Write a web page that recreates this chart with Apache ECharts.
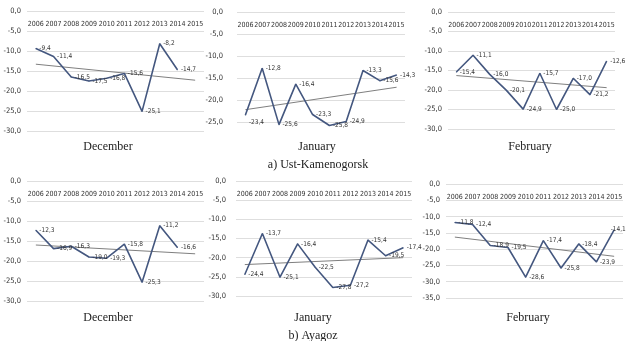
<!DOCTYPE html>
<html><head><meta charset="utf-8">
<script src="https://cdn.jsdelivr.net/npm/echarts@6/dist/echarts.min.js"></script>
<style>html,body{margin:0;padding:0;background:#fff}#c{width:631px;height:341px}</style>
</head><body><div id="c"></div>
<script>
const years = ['2006','2007','2008','2009','2010','2011','2012','2013','2014','2015'];
// Ust-Kamenogorsk
const ustDec = [-9.4, -11.4, -16.5, -17.5, -16.8, -15.6, -25.1, -8.2, -14.7, null];
const ustJan = [-23.4, -12.8, -25.6, -16.4, -23.3, -25.8, -24.9, -13.3, -15.6, -14.3];
const ustFeb = [-15.4, -11.1, -16.0, -20.1, -24.9, -15.7, -25.0, -17.0, -21.2, -12.6];
// Ayagoz
const ayaDec = [-12.3, -16.9, -16.3, -19.0, -19.3, -15.8, -25.3, -11.2, -16.6, null];
const ayaJan = [-24.4, -13.7, -25.1, -16.4, -22.5, -27.8, -27.2, -15.4, -19.5, -17.4];
const ayaFeb = [-11.8, -12.4, -18.9, -19.5, -28.6, -17.4, -25.8, -18.4, -23.9, -14.1];
// trend line values at 2006 and 2015
const trendUstDec = [-13.3, -17.3];
const trendUstJan = [-22.2, -17.1];
const trendUstFeb = [-16.3, -19.4];
const trendAyaDec = [-16.0, -18.2];
const trendAyaJan = [-21.8, -20.0];
const trendAyaFeb = [-16.3, -22.2];
const axisMins = [-30, -25, -30, -30, -30, -35];
const monthTitles = ['December', 'January', 'February', 'December', 'January', 'February'];
const stationTitles = ['a) Ust-Kamenogorsk', 'b) Ayagoz'];

const seriesData = [ustDec, ustJan, ustFeb, ayaDec, ayaJan, ayaFeb];
const trends = [trendUstDec, trendUstJan, trendUstFeb, trendAyaDec, trendAyaJan, trendAyaFeb];

const grids = [
  {left: 27, top: 11, width: 177, height: 120},
  {left: 237, top: 12, width: 168, height: 110},
  {left: 448, top: 12, width: 167, height: 117},
  {left: 27, top: 181, width: 177, height: 120},
  {left: 236, top: 181, width: 176, height: 115},
  {left: 446, top: 184, width: 177, height: 114}
];
const labelMargins = [6, 14, 6, 6, 10, 6];
const titlePos = [
  {x: 103, y: 136}, {x: 312, y: 136}, {x: 525, y: 136},
  {x: 103, y: 307}, {x: 308, y: 307}, {x: 523, y: 307}
];
const stationPos = [{x: 313, y: 154}, {x: 308, y: 325}];
// per-panel label placement overrides {index: [dx, dy]} relative to the point
const labelShifts = [
  {}, {0: [4, 4]}, {},
  {}, {}, {9: [-3, -4]}
];

const fmt = v => (v == null ? '' : Number(v).toFixed(1).replace('.', ','));
const smallFont = 'Liberation Sans Narrow, DejaVu Sans Condensed, Arial Narrow, sans-serif';
const serif = 'Liberation Serif, DejaVu Serif, serif';
const lineColor = '#44577f';

const option = {
  animation: false,
  backgroundColor: '#fff',
  grid: grids,
  xAxis: grids.map((g, i) => ({
    type: 'category', gridIndex: i, data: years, position: 'top',
    boundaryGap: true,
    axisLine: {show: false}, axisTick: {show: false},
    axisLabel: {inside: true, margin: 10, fontSize: 7, color: '#333', fontFamily: smallFont, interval: 0}
  })),
  yAxis: grids.map((g, i) => ({
    type: 'value', gridIndex: i, min: axisMins[i], max: 0, interval: 5,
    axisLine: {show: false}, axisTick: {show: false},
    axisLabel: {fontSize: 7.5, color: '#333', fontFamily: smallFont, margin: labelMargins[i], formatter: fmt},
    splitLine: {lineStyle: {color: '#dedede', width: 1}}
  })),
  title: monthTitles.map((t, i) => ({
    text: t, left: titlePos[i].x, top: titlePos[i].y, textAlign: 'center',
    textStyle: {fontFamily: serif, fontSize: 12, fontWeight: 'normal', color: '#222'}
  })).concat(stationTitles.map((t, i) => ({
    text: t, left: stationPos[i].x, top: stationPos[i].y, textAlign: 'center',
    textStyle: {fontFamily: serif, fontSize: 12, fontWeight: 'normal', color: '#222'}
  }))),
  series: []
};

seriesData.forEach((d, i) => {
  const tr = trends[i];
  const trendData = years.map((y, k) => k === 0 ? tr[0] : (k === years.length - 1 ? tr[1] : null));
  option.series.push({
    type: 'line', xAxisIndex: i, yAxisIndex: i, data: trendData, connectNulls: true,
    showSymbol: false, symbol: 'none', silent: true, clip: false,
    lineStyle: {color: '#7f7f7f', width: 1}, z: 1
  });
  const items = d.map((v, k) => labelShifts[i][k]
    ? {value: v, label: {show: true, position: labelShifts[i][k], formatter: p => fmt(p.value)}}
    : v);
  option.series.push({
    type: 'line', xAxisIndex: i, yAxisIndex: i, data: items, clip: false,
    symbol: 'circle', symbolSize: 1, showSymbol: true,
    lineStyle: {color: lineColor, width: 1.6}, itemStyle: {color: lineColor},
    label: {show: true, position: 'right', distance: 3, fontSize: 6.5, color: '#333', fontFamily: smallFont,
      formatter: p => fmt(p.value)},
    labelLayout: {hideOverlap: false},
    z: 2
  });
});

const chart = echarts.init(document.getElementById('c'), null, {renderer: 'canvas'});
chart.setOption(option);
</script></body></html>
